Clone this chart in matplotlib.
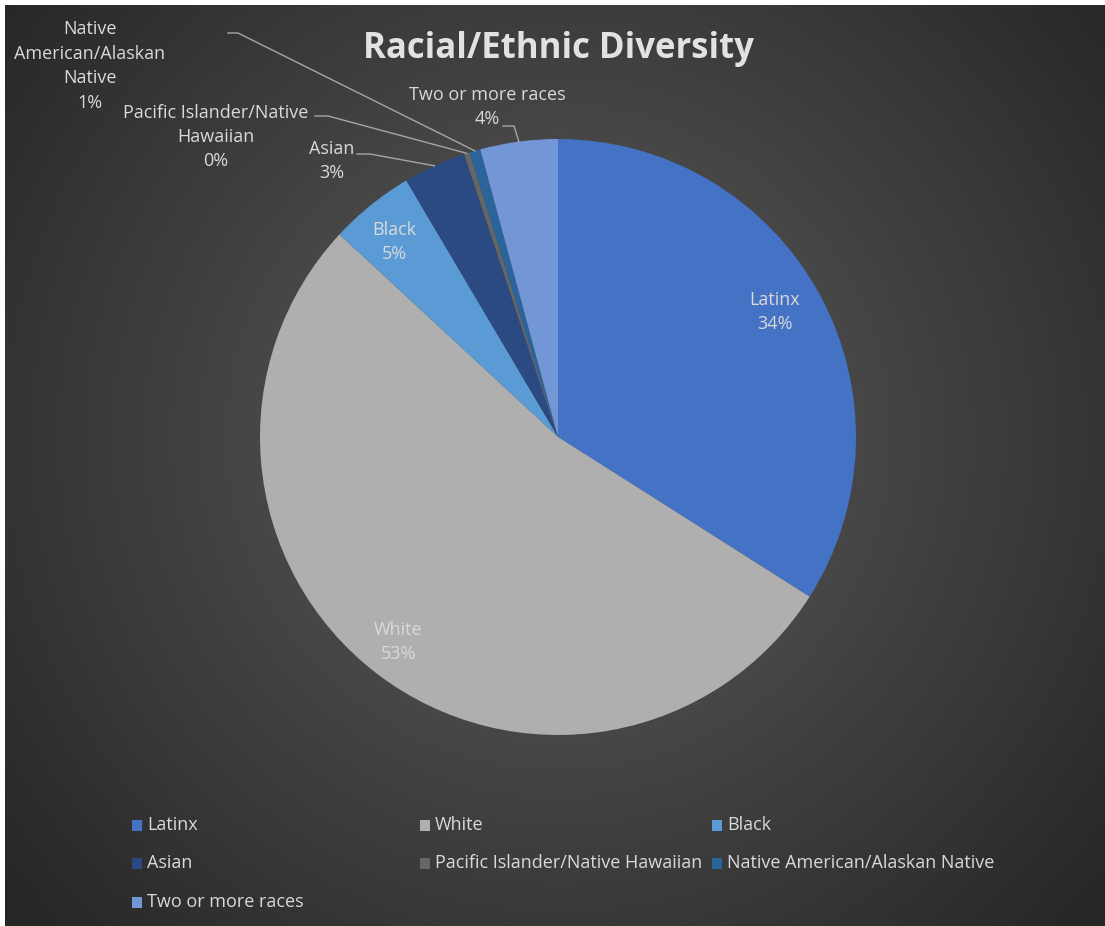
import numpy as np
import matplotlib.pyplot as plt
from matplotlib.patches import Rectangle

plt.rcParams["font.family"] = ["Open Sans", "DejaVu Sans"]

categories = ["Latinx", "White", "Black", "Asian",
              "Pacific Islander/Native Hawaiian",
              "Native American/Alaskan Native", "Two or more races"]
shares = [34.0, 52.9, 4.6, 3.4, 0.3, 0.6, 4.2]
colors = ["#4472C4", "#AFAFAF", "#5B9BD5", "#2B4A82",
          "#666666", "#2A649A", "#7396D6"]
# category names as they wrap on the pie labels
label_names = ["Latinx", "White", "Black", "Asian",
               "Pacific Islander/Native\nHawaiian",
               "Native\nAmerican/Alaskan\nNative", "Two or more races"]

W, H = 1105, 926
TXT = "#D9D9D9"
LINE = "#A6A6A6"


def Y(y):
    # pixel rows count from the top, the axes from the bottom
    return H - y


fig = plt.figure(figsize=(W / 100, H / 100), dpi=100, facecolor="white")
ax = fig.add_axes([0, 0, 1, 1])

# radial grey backdrop
xx, yy = np.meshgrid(np.arange(5, W), np.arange(5, H))
r = np.hypot(xx - 558, yy - 437)
g = (0x5C - (0x5C - 0x26) * np.clip(r / 720, 0, 1) ** 1.05) / 255
ax.imshow(np.dstack([g, g, g]), extent=(5, W, 0, H - 5), origin="upper",
          aspect="auto", zorder=0)

cx, cy, rad = 558, Y(437), 298
wedges, _ = ax.pie(shares, colors=colors, startangle=90, counterclock=False,
                   center=(cx, cy), radius=rad, wedgeprops=dict(linewidth=0))

ax.set_xlim(0, W)
ax.set_ylim(0, H)
ax.set_aspect("auto")
ax.axis("off")

ax.text(558, Y(49), "Racial/Ethnic Diversity", ha="center", va="center",
        fontsize=25, fontweight="bold", color="#E2E2E2")

# label block centres; small slices get a leader line (start, elbow)
label_pos = [(775, 312), (398, 642), (394, 242), (332, 161),
             (216, 137), (90, 66), (487, 107)]
leaders = {3: [(357, 154), (370, 154)],
           4: [(315, 116), (328, 116)],
           5: [(228, 33), (238, 33)],
           6: [(503, 126), (514, 126)]}

for i, (name, val) in enumerate(zip(label_names, shares)):
    x, y = label_pos[i]
    ax.text(x, Y(y), f"{name}\n{round(val):.0f}%", ha="center", va="center",
            multialignment="center", fontsize=13, color=TXT, linespacing=1.46)
    if i in leaders:
        w = wedges[i]
        mid = np.deg2rad((w.theta1 + w.theta2) / 2)
        ex, ey = cx + rad * np.cos(mid), cy + rad * np.sin(mid)
        (x0, y0), (x1, y1) = leaders[i]
        ax.plot([x0, x1, ex], [Y(y0), Y(y1), ey], color=LINE, lw=1,
                solid_joinstyle="miter")

# legend, filled row by row
col_x = [132, 420, 712]
row_y = [825, 863, 902]
for i, (name, c) in enumerate(zip(categories, colors)):
    mx, my = col_x[i % 3], row_y[i // 3]
    ax.add_patch(Rectangle((mx, Y(my) - 6), 10, 11, facecolor=c, lw=0))
    ax.text(mx + 15, Y(my), name, ha="left", va="center",
            fontsize=13, color=TXT)

fig.savefig("out.png", dpi=100, facecolor=fig.get_facecolor())
